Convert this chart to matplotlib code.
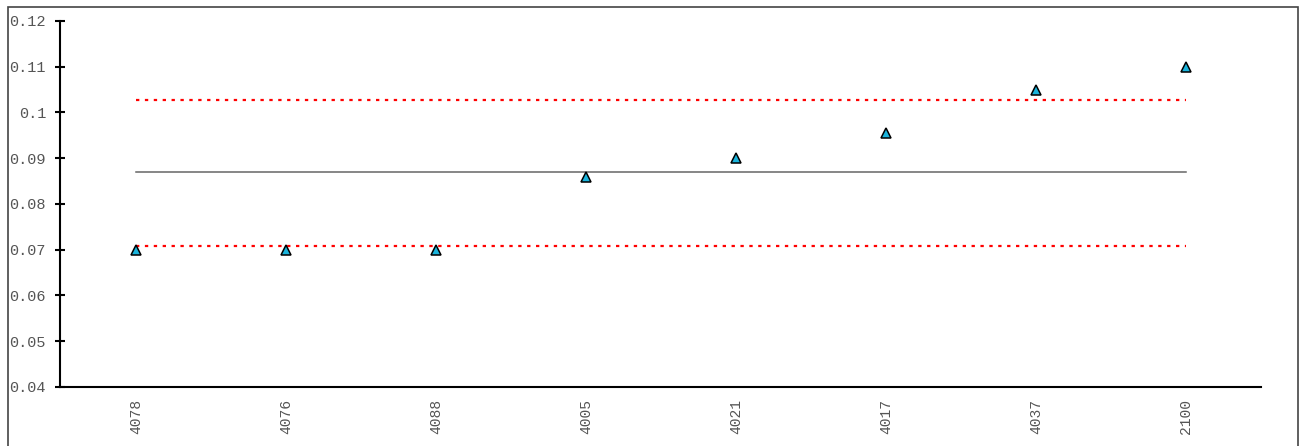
import matplotlib.pyplot as plt
from matplotlib.patches import Rectangle

# datos
muestras = ['4078', '4076', '4088', '4005', '4021', '4017', '4037', '2100']
valores = [0.070, 0.070, 0.070, 0.086, 0.090, 0.0955, 0.105, 0.110]
media = 0.0869
lim_sup = 0.1028
lim_inf = 0.0708

fuente = 'Liberation Mono'
gris = '#555555'

fig = plt.figure(figsize=(13.03, 4.46), dpi=100)
ax = fig.add_axes([60 / 1303, 1 - 387 / 446, (1261 - 60) / 1303, (387 - 21) / 446])

x = list(range(len(muestras)))
ax.plot([x[0], x[-1]], [media, media], color='#666666', lw=1.1, zorder=2)
ax.plot([x[0], x[-1]], [lim_sup, lim_sup], color='red', lw=1.6, ls=(0, (1.5, 2.5)), zorder=2)
ax.plot([x[0], x[-1]], [lim_inf, lim_inf], color='red', lw=1.6, ls=(0, (1.5, 2.5)), zorder=2)
ax.plot(x, valores, ls='none', marker='^', ms=7, mfc='#1ab4dc', mec='black', mew=1.1, zorder=3)

ax.set_xlim(-0.507, 7.5)
ax.set_ylim(0.04, 0.12)
ax.set_yticks([0.04, 0.05, 0.06, 0.07, 0.08, 0.09, 0.1, 0.11, 0.12])
ax.set_yticklabels(['0.04', '0.05', '0.06', '0.07', '0.08', '0.09', '0.1', '0.11', '0.12'])
ax.set_xticks(x)
ax.set_xticklabels(muestras, rotation=90)

for s in ['top', 'right']:
    ax.spines[s].set_visible(False)
for s in ['left', 'bottom']:
    ax.spines[s].set_linewidth(1.5)

ax.tick_params(axis='y', direction='inout', length=7, width=1.5, pad=6.5,
               labelsize=11, labelcolor=gris)
ax.tick_params(axis='x', length=0, pad=9, labelsize=10.5, labelcolor=gris)
for lbl in ax.get_xticklabels() + ax.get_yticklabels():
    lbl.set_family(fuente)

# marco exterior
fig.patches.append(Rectangle((8 / 1303, -0.05), (1298 - 8) / 1303, 1.05 - 7 / 446,
                             transform=fig.transFigure, fill=False,
                             edgecolor='#444444', lw=1.2))

fig.savefig('out.png', dpi=100)
